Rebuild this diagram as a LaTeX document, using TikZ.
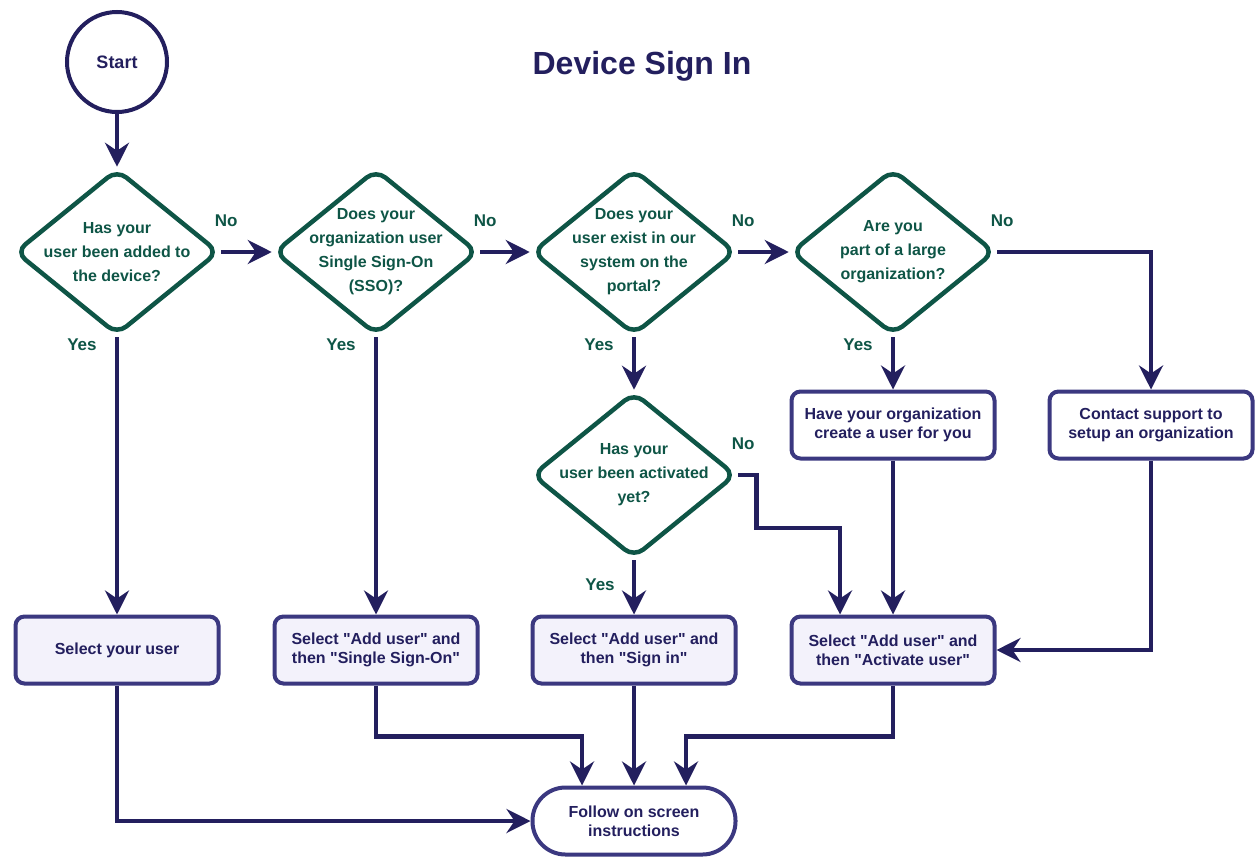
\documentclass[tikz,border=0pt]{standalone}
\usepackage{fontspec}
\setmainfont{Liberation Sans}[Ligatures=TeXOff]
\usetikzlibrary{shapes.geometric,arrows.meta,positioning,calc}
\definecolor{navy}{HTML}{231F5E}
\definecolor{pine}{HTML}{0E5546}
\definecolor{boxline}{HTML}{3B3880}
\definecolor{boxfill}{HTML}{F3F2FB}
\tikzset{
  decision/.style={diamond, draw=pine, line width=4.5pt, rounded corners=12pt, aspect=1.23, minimum width=204pt, minimum height=166pt, inner sep=-14pt, align=center, text=pine, font=\bfseries\fontsize{16}{24}\selectfont},
  action/.style={rectangle, draw=boxline, line width=4pt, rounded corners=9pt, minimum width=203pt, minimum height=67pt, inner sep=2pt, align=center, text=navy, font=\bfseries\fontsize{16}{19}\selectfont},
  result/.style={action, fill=boxfill},
  terminal/.style={circle, draw=navy, line width=4pt, minimum size=100pt, text=navy, font=\bfseries\fontsize{18}{22}\selectfont},
  flow/.style={draw=navy, line width=4.5pt, -{Stealth[length=24pt,width=24pt,inset=8pt]}},
  answer/.style={anchor=base, inner sep=0pt, text=pine, font=\bfseries\fontsize{17}{20}\selectfont},
}
\begin{document}
\begin{tikzpicture}[x=1pt,y=-1pt]
  \useasboundingbox (0,0) rectangle (1257,857);
  \node[terminal] (start) at (117,62) {Start};
  \node[text=navy, font=\bfseries\fontsize{32}{38}\selectfont] (title) at (642,66) {Device Sign In};

  % questions
  \node[decision] (q1) at (117,252) {Has your\\user been added to\\the device?};
  \node[decision] (q2) at (376,252) {Does your\\organization user\\Single Sign-On\\(SSO)?};
  \node[decision] (q3) at (634,252) {Does your\\user exist in our\\system on the\\portal?};
  \node[decision] (q4) at (893,252) {Are you\\part of a large\\organization?};
  \node[decision] (q5) at (634,475) {Has your\\user been activated\\yet?};

  % steps
  \node[action] (askorg) at (893,425) {Have your organization\\create a user for you};
  \node[action] (support) at (1151,425) {Contact support to\\setup an organization};
  \node[result] (pick) at (117,650) {Select your user};
  \node[result] (sso) at (376,650) {Select "Add user" and\\then "Single Sign-On"};
  \node[result] (signin) at (634,650) {Select "Add user" and\\then "Sign in"};
  \node[result] (activate) at (893,650) {Select "Add user" and\\then "Activate user"};
  \node[action, rounded corners=33pt] (follow) at (634,821) {Follow on screen\\instructions};

  \draw[flow] (start) -- (q1);
  \draw[flow] (q1) -- (q2);
  \draw[flow] (q2) -- (q3);
  \draw[flow] (q3) -- (q4);
  \draw[flow] (q4.east) -| (support);
  \draw[flow] (q1) -- (pick);
  \draw[flow] (q2) -- (sso);
  \draw[flow] (q3) -- (q5);
  \draw[flow] (q4) -- (askorg);
  \draw[flow] (q5) -- (signin);
  \coordinate (bend) at (840,528);
  \draw[flow] (q5.east) -- ++(18,0) |- (bend) -- (bend |- activate.north);
  \draw[flow] (askorg) -- (activate);
  \draw[flow] (support) |- (activate);
  \draw[flow] (pick) |- (follow);
  \draw[flow] (sso.south) -- ++(0,51) -| ([xshift=-52pt]follow.north);
  \draw[flow] (signin) -- (follow);
  \draw[flow] (activate.south) -- ++(0,51) -| ([xshift=52pt]follow.north);

  % answers
  \foreach \q in {q1,q2,q3,q4,q5} {\node[answer] (no-\q) at ($(\q.east)+(5,-26)$) {No};}
  \foreach \q in {q1,q2,q3,q4} {\node[answer] (yes-\q) at ($(\q.south)+(-35,13)$) {Yes};}
  \node[answer] (yes-q5) at ($(q5.south)+(-34,30)$) {Yes};
\end{tikzpicture}
\end{document}
